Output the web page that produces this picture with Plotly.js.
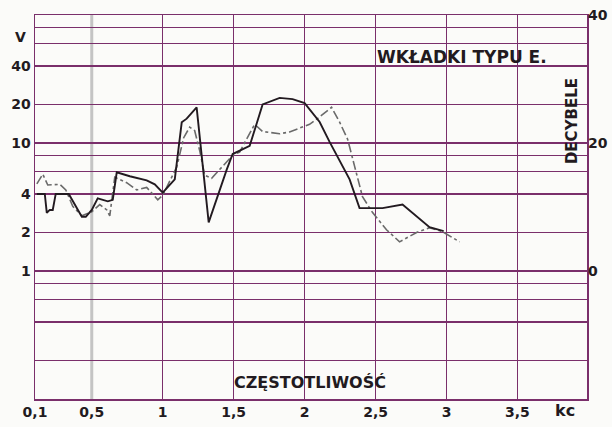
<!DOCTYPE html>
<html>
<head>
<meta charset="utf-8">
<script src="https://cdn.plot.ly/plotly-3.0.1.min.js"></script>
<style>html,body{margin:0;padding:0;background:#fbfbf9;}#chart{width:612px;height:427px;}</style>
</head>
<body>
<div id="chart"></div>
<script>
// Frequency (kc) and voltage (V)
const freqSolid = [0.113,0.169,0.183,0.204,0.225,0.246,0.303,0.338,0.43,0.458,0.5,0.542,0.613,0.648,0.676,0.768,0.887,0.944,1.0,1.085,1.134,1.169,1.239,1.324,1.451,1.493,1.613,1.704,1.824,1.915,2.0,2.106,2.176,2.268,2.317,2.387,2.479,2.549,2.69,2.88,2.98];
const voltSolid = [4.0,4.0,2.85,3.0,3.0,4.0,4.0,4.0,2.65,2.65,3.0,3.7,3.5,3.6,5.9,5.5,5.1,4.75,4.1,5.2,14.5,15.5,19,2.4,6.2,8.2,9.5,20,22.5,22,20.5,14.6,10.2,6.6,5.2,3.1,3.1,3.1,3.3,2.2,2.05];

const freqDash = [0.113,0.155,0.19,0.275,0.317,0.366,0.43,0.5,0.556,0.606,0.627,0.662,0.746,0.817,0.887,0.965,1.0,1.099,1.148,1.19,1.225,1.261,1.296,1.345,1.401,1.493,1.542,1.648,1.704,1.824,1.894,2.035,2.106,2.19,2.246,2.303,2.352,2.408,2.479,2.577,2.669,2.789,2.88,2.972,3.092];
const voltDash = [4.8,5.7,4.7,4.75,4.3,3.2,2.7,2.9,3.3,3.0,2.7,5.4,4.9,4.3,4.5,3.6,3.9,6.5,11,13.3,12.5,8.7,5.6,5.3,6.2,8.0,8.5,14,12.3,11.8,12.2,14,16,19,14.6,10.7,6.6,3.8,2.86,2.1,1.69,2.0,2.18,2.03,1.69];

const xTickVals = [0.1,0.5,1,1.5,2,2.5,3,3.5];
const xTickText = ["0,1","0,5","1","1,5","2","2,5","3","3,5"];
const xGridVals = [1,1.5,2,2.5,3,3.5];
const yGridVals = [0.2,0.4,0.6,0.8,1,2,4,6,8,10,20,40,60,80];
const yGridText = ["","","","","1","2","4","","","10","20","40","",""];
const dbTickVals = [0,20,40];
const dbTickText = ["0","20","40"];

const grid = '#7a2f6b';
const ink = '#221a20';
const fam = 'DejaVu Sans, sans-serif';
const font = {family:fam, size:14, color:ink, weight:'bold'};

const traces = [
  {x:freqDash, y:voltDash, type:'scatter', mode:'lines', line:{color:'#6a6a6a', width:1.6, dash:'dashdot'}, hoverinfo:'skip', showlegend:false},
  {x:freqSolid, y:voltSolid, type:'scatter', mode:'lines', line:{color:ink, width:1.9}, hoverinfo:'skip', showlegend:false},
  {x:[], y:[], yaxis:'y2', type:'scatter', mode:'lines', showlegend:false, hoverinfo:'skip'}
];

const layout = {
  width:612, height:427,
  margin:{l:35, r:25, t:15, b:28},
  paper_bgcolor:'#fbfbf9', plot_bgcolor:'#fbfbf9',
  font:font,
  showlegend:false,
  xaxis:{range:[0.1,3.99], tickmode:'array', tickvals:xTickVals, ticktext:xTickText, showgrid:false,
         minor:{tickmode:'array', tickvals:xGridVals, showgrid:true, gridcolor:grid, gridwidth:1.2, ticks:''},
         zeroline:false, showline:true, linecolor:grid, linewidth:1.5, mirror:true, ticks:'', tickfont:font, fixedrange:true},
  yaxis:{type:'log', range:[-1,2], tickvals:yGridVals, ticktext:yGridText, showgrid:true, gridcolor:grid, gridwidth:1.2,
         zeroline:false, showline:true, linecolor:grid, linewidth:1.5, mirror:true, ticks:'', tickfont:font, fixedrange:true},
  yaxis2:{overlaying:'y', side:'right', range:[-20,40], tickvals:dbTickVals, ticktext:dbTickText, showgrid:false,
          zeroline:false, showline:false, ticks:'', tickfont:font, fixedrange:true},
  shapes:[
    {type:'line', xref:'x', yref:'paper', x0:0.5, x1:0.5, y0:0, y1:1, line:{color:'#c4c4c4', width:3}, layer:'between'}
  ],
  annotations:[
    {text:'WKŁADKI TYPU E.', xref:'paper', yref:'paper', x:0.774, y:0.891, xanchor:'center', yanchor:'middle', showarrow:false, font:{family:fam, size:17, color:ink, weight:'bold'}},
    {text:'DECYBELE', xref:'paper', yref:'paper', x:0.973, y:0.724, xanchor:'center', yanchor:'middle', textangle:-90, showarrow:false, font:{family:fam, size:15, color:ink, weight:'bold'}},
    {text:'CZĘSTOTLIWOŚĆ', xref:'paper', yref:'paper', x:0.498, y:0.042, xanchor:'center', yanchor:'middle', showarrow:false, font:{family:fam, size:16, color:ink, weight:'bold'}},
    {text:'V', xref:'paper', yref:'paper', x:-0.012, y:0.943, xanchor:'right', yanchor:'middle', showarrow:false, font:font},
    {text:'kc', xref:'paper', yref:'paper', x:0.96, y:-0.029, xanchor:'center', yanchor:'middle', showarrow:false, font:{family:fam, size:16, color:ink, weight:'bold'}}
  ]
};

Plotly.newPlot('chart', traces, layout, {staticPlot:true, displayModeBar:false});
</script>
</body>
</html>
